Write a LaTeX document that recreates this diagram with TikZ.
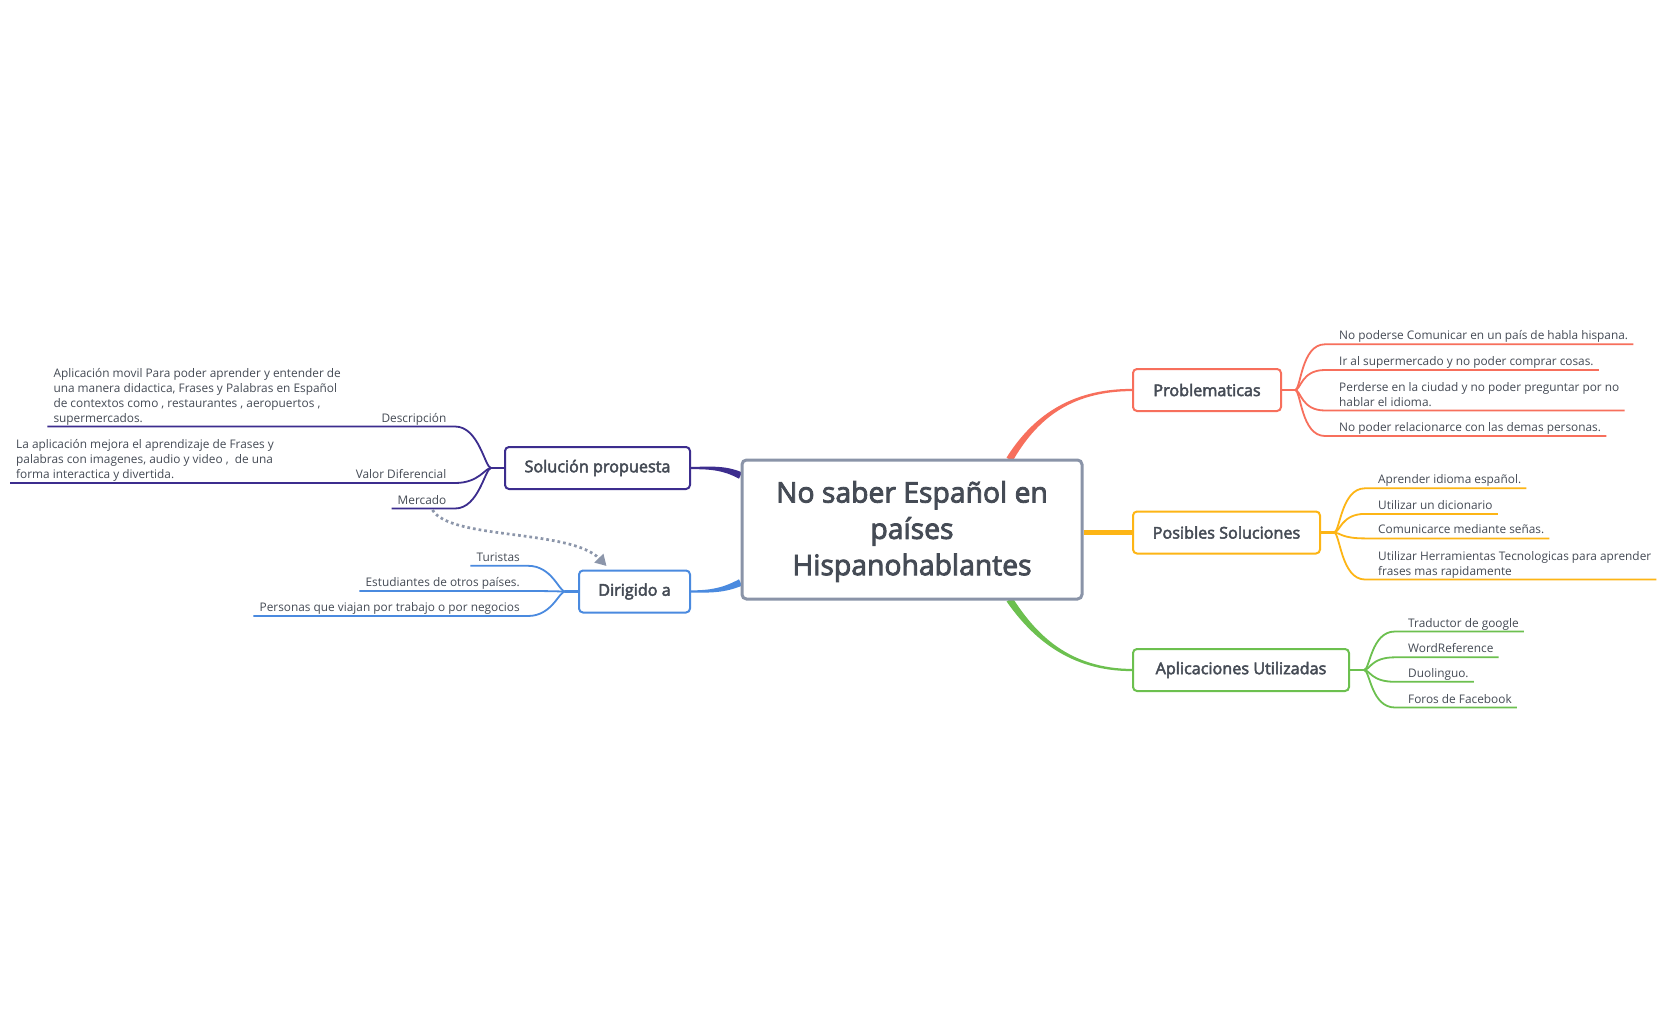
\documentclass[tikz,border=0pt]{standalone}
\usepackage{fontspec}
\setmainfont{Open Sans}
\newfontfamily\topicfont{Open Sans}[FakeBold=3]
\usetikzlibrary{arrows.meta,backgrounds,calc}

\definecolor{ink}{HTML}{454B55}
\definecolor{coral}{HTML}{F76F5C}
\definecolor{amber}{HTML}{FDB515}
\definecolor{leafgreen}{HTML}{6CC04F}
\definecolor{indigo}{HTML}{3C2D8E}
\definecolor{sky}{HTML}{4A8ADF}
\definecolor{slate}{HTML}{8A94A8}
\definecolor{relgray}{HTML}{8C96AA}

% multi-line labels whose baseline is the baseline of the last line
\newcommand\mlines[1]{\begin{tabular}[b]{@{}l@{}}#1\end{tabular}}

% twig from a hub to a leaf on the right: curve, then underline below the text
\newcommand\rtwig[4]{%
  \draw[twig=#1] (#2) .. controls +(6,0) and +(-24,0) ..
    ([shift={(-#4,4.5)}]#3.base west) -- ([shift={(5,4.5)}]#3.base east);}
% twig from a hub to a leaf on the left; #5 is the node where the underline stops
\newcommand\ltwig[5]{%
  \draw[twig=#1] (#2) .. controls +(-6,0) and +(24,0) ..
    ([shift={(#4,4.5)}]#3.base east) -- ([shift={(-6,4.5)}]#5.base west);}

% tapered branch: start, first control, second control, end
\newcommand\taper[5]{%
  \fill[#1] ($(#2)!3.5pt!90:(#3)$) .. controls ($(#3)!2.6pt!-90:(#2)$) and ($(#4)!1.3pt!90:(#5)$) ..
    ($(#5)!1.1pt!-90:(#4)$) -- ($(#5)!1.1pt!90:(#4)$) .. controls ($(#4)!1.3pt!-90:(#5)$) and ($(#3)!2.6pt!90:(#2)$) ..
    ($(#2)!3.5pt!-90:(#3)$) -- cycle;}

\tikzset{
  rootbox/.style={draw=slate, line width=3pt, rounded corners=4.5pt, fill=white,
    minimum width=340pt, minimum height=139pt, inner sep=0pt},
  roottext/.style={align=center, inner sep=0pt, text=ink,
    font=\topicfont\fontsize{28.3}{36.3}\selectfont},
  topic/.style={draw=#1, line width=2pt, rounded corners=4pt, fill=white,
    minimum height=42pt, inner sep=0pt, text=ink,
    font=\topicfont\fontsize{16.2}{19}\selectfont},
  item/.style={inner sep=0pt, text=ink, font=\fontsize{11.85}{15}\selectfont},
  twig/.style={draw=#1, line width=1.8pt},
  limb/.style={draw=#1, line width=4.2pt},
  relation/.style={draw=relgray, line width=2.7pt, dash pattern=on 2.7pt off 3pt,
    -{Triangle[length=11pt,width=12pt,fill=relgray]}},
}

\begin{document}
\begin{tikzpicture}[x=1pt,y=-1pt]
\useasboundingbox (0,0) rectangle (1672,1035);

% central topic
\node[rootbox] (root) at (912,529.5) {};
\node[roottext] (roottitle) at ([shift={(0,2)}]root.center) {No saber Español en\\países\\Hispanohablantes};

% main topics
\node[topic=coral, minimum width=148pt] (prob) at (1207,390) {Problematicas};
\node[topic=amber, minimum width=187pt] (sol) at (1226.5,532.5) {Posibles Soluciones};
\node[topic=leafgreen, minimum width=216pt] (apps) at (1241,670) {Aplicaciones Utilizadas};
\node[topic=indigo, minimum width=185pt] (prop) at (597.5,468) {Solución propuesta};
\node[topic=sky, minimum width=111pt] (dir) at (634.5,591.5) {Dirigido a};

% hubs where the twigs fan out
\coordinate (probhub) at ($(prob.east)+(13,0)$);
\coordinate (solhub) at ($(sol.east)+(13,0)$);
\coordinate (appshub) at ($(apps.east)+(14,0)$);
\coordinate (prophub) at ($(prop.west)+(-13,0)$);
\coordinate (dirhub) at ($(dir.west)+(-13,0)$);

% Problematicas
\node[item, anchor=base west] (p1) at (1339,339.8) {\mlines{No poderse Comunicar en un país de habla hispana.}};
\node[item, anchor=base west] (p2) at (1339,365.5) {\mlines{Ir al supermercado y no poder comprar cosas.}};
\node[item, anchor=base west] (p3) at (1339,406) {\mlines{Perderse en la ciudad y no poder preguntar por no\\hablar el idioma.}};
\node[item, anchor=base west] (p4) at (1339,431.5) {\mlines{No poder relacionarce con las demas personas.}};

% Posibles Soluciones
\node[item, anchor=base west] (s1) at (1378,483.8) {\mlines{Aprender idioma español.}};
\node[item, anchor=base west] (s2) at (1378,509.4) {\mlines{Utilizar un dicionario}};
\node[item, anchor=base west] (s3) at (1378,533.9) {\mlines{Comunicarce mediante señas.}};
\node[item, anchor=base west] (s4) at (1378,575) {\mlines{Utilizar Herramientas Tecnologicas para aprender\\frases mas rapidamente}};

% Aplicaciones Utilizadas
\node[item, anchor=base west] (a1) at (1408,627) {\mlines{Traductor de google}};
\node[item, anchor=base west] (a2) at (1408,652.8) {\mlines{WordReference}};
\node[item, anchor=base west] (a3) at (1408,677.3) {\mlines{Duolinguo.}};
\node[item, anchor=base west] (a4) at (1408,703) {\mlines{Foros de Facebook}};

% Solución propuesta
\node[item, anchor=base east] (d1) at (446.5,422) {\mlines{Descripción}};
\node[item, anchor=base west] (d1n) at (53.3,422) {\mlines{Aplicación movil Para poder aprender y entender de\\una manera didactica, Frases y Palabras en Español\\de contextos como , restaurantes , aeropuertos ,\\supermercados.}};
\node[item, anchor=base east] (d2) at (446.5,478.5) {\mlines{Valor Diferencial}};
\node[item, anchor=base west] (d2n) at (16,478.5) {\mlines{La aplicación mejora el aprendizaje de Frases y\\palabras con imagenes, audio y video , \ de una\\forma interactica y divertida.}};
\node[item, anchor=base east] (d3) at (446.5,504) {\mlines{Mercado}};

% Dirigido a
\node[item, anchor=base east] (t1) at (520,561.3) {\mlines{Turistas}};
\node[item, anchor=base east] (t2) at (520,586.5) {\mlines{Estudiantes de otros países.}};
\node[item, anchor=base east] (t3) at (520,611.5) {\mlines{Personas que viajan por trabajo o por negocios}};

% start and control points of the curved branches
\coordinate (r0) at ([shift={(269,1)}]root.north west);
\coordinate (r1) at ($(r0)+(24,-40)$);
\coordinate (r2) at ($(prob.west)+(-63,0)$);
\coordinate (g0) at ([shift={(269,-1)}]root.south west);
\coordinate (g1) at ($(g0)+(24,36)$);
\coordinate (g2) at ($(apps.west)+(-63,0)$);
\coordinate (i0) at ([shift={(0,17)}]root.north west);
\coordinate (i1) at ($(i0)+(-17,-8)$);
\coordinate (i2) at ($(prop.east)+(20,0)$);
\coordinate (b0) at ([shift={(0,-18)}]root.south west);
\coordinate (b1) at ($(b0)+(-17,8)$);
\coordinate (b2) at ($(dir.east)+(20,0)$);

\begin{scope}[on background layer]
  \fill[white] (0,0) rectangle (1672,1035);

  % branches out of the central topic
  \taper{coral}{r0}{r1}{r2}{prob.west}
  \taper{leafgreen}{g0}{g1}{g2}{apps.west}
  \taper{indigo}{i0}{i1}{i2}{prop.east}
  \taper{sky}{b0}{b1}{b2}{dir.east}
  \draw[limb=amber] (root.east |- sol.west) -- (sol.west);

  % stubs
  \draw[twig=coral, line width=2.6pt] (prob.east) -- (probhub);
  \draw[twig=amber, line width=2.6pt] (sol.east) -- (solhub);
  \draw[twig=leafgreen, line width=2.6pt] (apps.east) -- (appshub);
  \draw[twig=indigo, line width=2.6pt] (prop.west) -- (prophub);
  \draw[twig=sky, line width=2.6pt] (dir.west) -- (dirhub);

  % twigs
  \rtwig{coral}{probhub}{p1}{14}
  \rtwig{coral}{probhub}{p2}{14}
  \rtwig{coral}{probhub}{p3}{14}
  \rtwig{coral}{probhub}{p4}{14}
  \rtwig{amber}{solhub}{s1}{13}
  \rtwig{amber}{solhub}{s2}{13}
  \rtwig{amber}{solhub}{s3}{13}
  \rtwig{amber}{solhub}{s4}{13}
  \rtwig{leafgreen}{appshub}{a1}{13}
  \rtwig{leafgreen}{appshub}{a2}{13}
  \rtwig{leafgreen}{appshub}{a3}{13}
  \rtwig{leafgreen}{appshub}{a4}{13}
  \ltwig{indigo}{prophub}{d1}{8.5}{d1n}
  \ltwig{indigo}{prophub}{d2}{8.5}{d2n}
  \ltwig{indigo}{prophub}{d3}{8.5}{d3}
  \ltwig{sky}{dirhub}{t1}{8}{t1}
  \ltwig{sky}{dirhub}{t2}{8}{t2}
  \ltwig{sky}{dirhub}{t3}{8}{t3}
\end{scope}

% relationship from Mercado to Dirigido a
\draw[relation] ([shift={(10.5,6)}]d3.base) .. controls +(18,30) and +(-36,-37) .. ([shift={(-28,-3.5)}]dir.north);
\end{tikzpicture}
\end{document}
